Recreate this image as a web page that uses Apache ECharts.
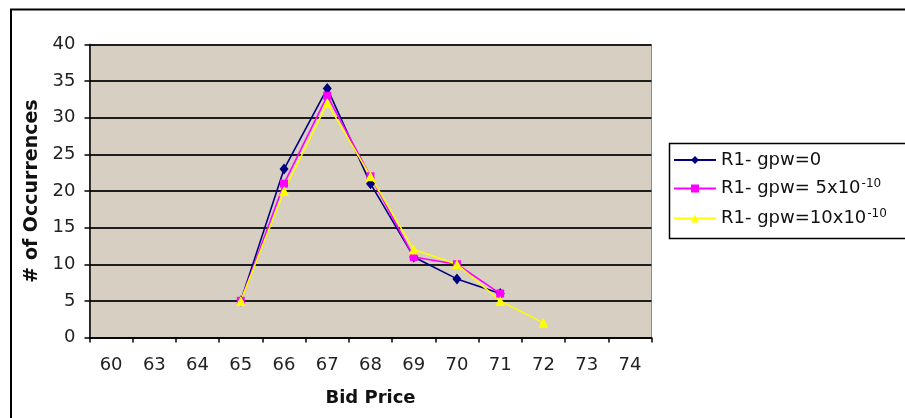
<!DOCTYPE html>
<html>
<head>
<meta charset="utf-8">
<script src="https://cdn.jsdelivr.net/npm/echarts@6/dist/echarts.min.js"></script>
<style>
  html, body { margin: 0; padding: 0; background: #ffffff; }
  #chart { width: 905px; height: 418px; }
</style>
</head>
<body>
<div id="chart"></div>
<script>
// Bid price categories along the x axis
const bidPrices = ['60', '63', '64', '65', '66', '67', '68', '69', '70', '71', '72', '73', '74'];

// Occurrence counts per bid price (null = no observation)
const gpw0      = [null, null, null, 5, 23, 34, 21, 11, 8, 6, null, null, null];
const gpw5e10   = [null, null, null, 5, 21, 33, 22, 11, 10, 6, null, null, null];
const gpw10e10  = [null, null, null, 5, 20, 32, 22, 12, 10, 5, 2, null, null];

// Legend labels: base text and optional exponent
const seriesNames = ['R1- gpw=0', 'R1- gpw= 5x10', 'R1- gpw=10x10'];
const seriesExps  = ['', '-10', '-10'];

const yTicks = { min: 0, max: 40, step: 5 };

const chart = echarts.init(document.getElementById('chart'));
const font = 'DejaVu Sans, Verdana, sans-serif';

function makeSeries(name, data, color, symbol, size) {
  return {
    name: name,
    type: 'line',
    data: data,
    symbol: symbol,
    symbolSize: size,
    connectNulls: false,
    lineStyle: { color: color, width: 1.6 },
    itemStyle: { color: color },
    emphasis: { disabled: true },
    animation: false
  };
}

const option = {
  animation: false,
  backgroundColor: '#ffffff',
  textStyle: { fontFamily: font },
  grid: {
    left: 89.5, right: 253.5, top: 44.5, bottom: 80.5,
    show: true,
    backgroundColor: '#d6cfc2',
    borderColor: '#8a8a8a',
    borderWidth: 1
  },
  xAxis: {
    type: 'category',
    data: bidPrices,
    boundaryGap: true,
    name: 'Bid Price',
    nameLocation: 'middle',
    nameGap: 52,
    nameTextStyle: { fontFamily: font, fontWeight: 'bold', fontSize: 18, color: '#111' },
    axisLine: { lineStyle: { color: '#000', width: 1.5 } },
    axisTick: { show: true, alignWithLabel: false, interval: 0, length: 5, lineStyle: { color: '#000', width: 1.5 } },
    axisLabel: { interval: 0, margin: 19, fontFamily: font, fontSize: 18, color: '#222' },
    splitLine: { show: false }
  },
  yAxis: {
    type: 'value',
    min: yTicks.min, max: yTicks.max, interval: yTicks.step,
    name: '# of Occurrences',
    nameLocation: 'middle',
    nameGap: 46,
    nameTextStyle: { fontFamily: font, fontWeight: 'bold', fontSize: 19, color: '#111' },
    axisLine: { show: true, lineStyle: { color: '#000', width: 1.5 } },
    axisTick: { show: true, length: 5, lineStyle: { color: '#000', width: 1.5 } },
    axisLabel: { margin: 14, fontFamily: font, fontSize: 18, color: '#222' },
    splitLine: { show: true, lineStyle: { color: '#1e1e1e', width: 2 } }
  },
  legend: {
    orient: 'vertical',
    left: 673,
    top: 151,
    padding: 0,
    itemGap: 9,
    itemWidth: 42,
    itemHeight: 10,
    selectedMode: false,
    data: seriesNames,
    formatter: function (name) {
      const i = seriesNames.indexOf(name);
      const exp = seriesExps[i];
      return '{b|' + name + '}' + (exp ? '{sup|' + exp + '}' : '');
    },
    textStyle: {
      fontFamily: font,
      fontSize: 18,
      color: '#111',
      rich: {
        b: { fontFamily: font, fontSize: 18, lineHeight: 21, color: '#111' },
        sup: { fontFamily: font, fontSize: 12, lineHeight: 21, color: '#111', verticalAlign: 'top', padding: [0, 0, 9, 1] }
      }
    }
  },
  graphic: [
    // chart frame
    { type: 'rect', silent: true, z: 100,
      shape: { x: 11, y: 9.5, width: 960, height: 480 },
      style: { fill: null, stroke: '#000', lineWidth: 2 } },
    // legend frame
    { type: 'rect', silent: true, z: 100,
      shape: { x: 669.5, y: 143.5, width: 300, height: 95 },
      style: { fill: null, stroke: '#000', lineWidth: 1.5 } }
  ],
  series: [
    makeSeries(seriesNames[0], gpw0, '#000080', 'diamond', [9, 11]),
    makeSeries(seriesNames[1], gpw5e10, '#ff00ff', 'rect', 8),
    makeSeries(seriesNames[2], gpw10e10, '#ffff00', 'triangle', 10)
  ]
};

chart.setOption(option);
</script>
</body>
</html>
